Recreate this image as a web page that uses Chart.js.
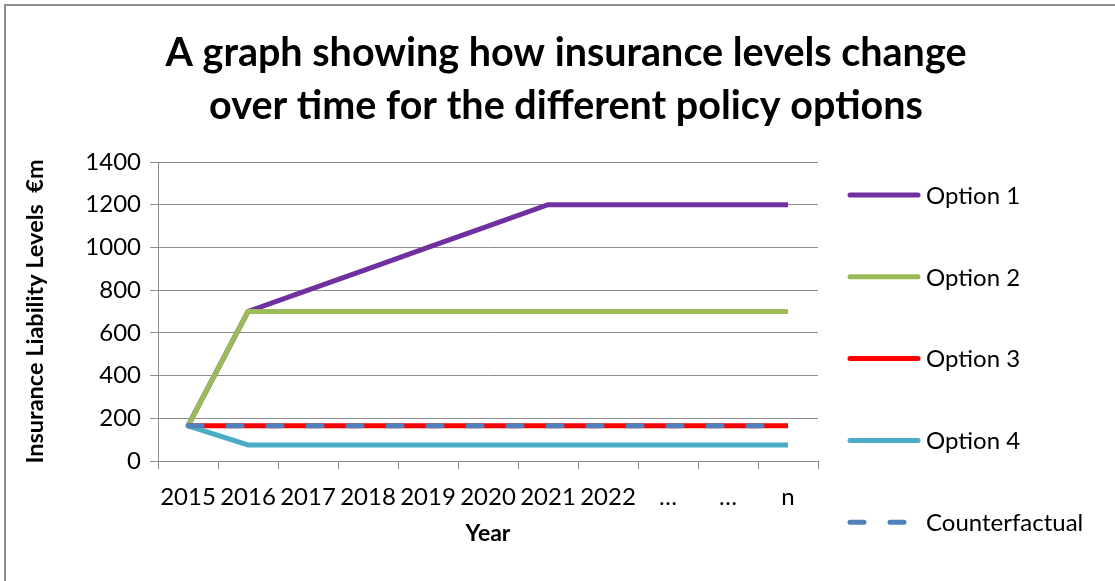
<!DOCTYPE html>
<html>
<head>
<meta charset="utf-8">
<script src="https://cdn.jsdelivr.net/npm/chart.js@4.4.1/dist/chart.umd.min.js"></script>
<style>
  html, body { margin: 0; padding: 0; background: #fff; }
  #wrap { position: relative; width: 1115px; height: 581px; overflow: hidden; }
  #frame { position: absolute; left: 4px; top: 4px; width: 1300px; height: 800px;
           border-left: 2px solid #8c8c8c; border-top: 2px solid #8c8c8c; }
  canvas { position: absolute; left: 0; top: 0; }
</style>
</head>
<body>
<div id="wrap">
  <div id="frame"></div>
  <canvas id="insChart" width="1115" height="581"></canvas>
</div>
<script>
const years = ['2015', '2016', '2017', '2018', '2019', '2020', '2021', '2022', '…', '…', 'n'];
const option1 = [165, 700, 800, 900, 1000, 1100, 1200, 1200, 1200, 1200, 1200];
const option2 = [165, 700, 700, 700, 700, 700, 700, 700, 700, 700, 700];
const option3 = [165, 165, 165, 165, 165, 165, 165, 165, 165, 165, 165];
const option4 = [165, 75, 75, 75, 75, 75, 75, 75, 75, 75, 75];
const counterfactual = [165, 165, 165, 165, 165, 165, 165, 165, 165, 165, 165];
const seriesNames = ['Option 1', 'Option 2', 'Option 3', 'Option 4', 'Counterfactual'];
const seriesColors = ['#7030A0', '#9BBB59', '#FF0000', '#4BACC6', '#4F81BD'];
const titleLines = ['A graph showing how insurance levels change', 'over time for the different policy options'];

const FONT = 'Lato';
const gridGray = '#8c8c8c';

function series(i, values, extra) {
    return Object.assign({
        label: seriesNames[i],
        data: values,
        borderColor: seriesColors[i],
        backgroundColor: seriesColors[i],
        borderWidth: 5,
        pointRadius: 0,
        pointHoverRadius: 0,
        tension: 0,
        fill: false,
        order: 4 - i
    }, extra || {});
}

// title drawn over the whole picture (Excel centres it on the chart object)
const titlePlugin = {
    id: 'bigTitle',
    afterDraw(chart) {
        const ctx = chart.ctx;
        ctx.save();
        ctx.fillStyle = '#000';
        ctx.font = 'bold 39.5px ' + FONT;
        ctx.textAlign = 'center';
        ctx.textBaseline = 'middle';
        titleLines.forEach((t, i) => ctx.fillText(t, 566, 53 + i * 53));
        ctx.restore();
    }
};

// legend on the right with long line samples
const sideLegend = {
    id: 'sideLegend',
    afterDraw(chart) {
        const ctx = chart.ctx;
        ctx.save();
        ctx.font = '24px ' + FONT;
        ctx.textBaseline = 'middle';
        ctx.textAlign = 'left';
        chart.data.datasets.forEach((ds, i) => {
            const y = 195 + i * 81.8;
            ctx.beginPath();
            ctx.strokeStyle = ds.borderColor;
            ctx.lineWidth = 5;
            ctx.lineCap = 'round';
            ctx.setLineDash(ds.borderDash || []);
            ctx.moveTo(850, y);
            ctx.lineTo(918, y);
            ctx.stroke();
            ctx.setLineDash([]);
            ctx.fillStyle = '#000';
            ctx.fillText(ds.label, 926, y + 1);
        });
        ctx.restore();
    }
};

new Chart(document.getElementById('insChart').getContext('2d'), {
    type: 'line',
    data: {
        labels: years,
        datasets: [
            series(0, option1),
            series(1, option2),
            series(2, option3),
            series(3, option4),
            series(4, counterfactual, { borderDash: [14, 26], borderCapStyle: 'round' })
        ]
    },
    options: {
        responsive: false,
        animation: false,
        layout: { padding: { top: 162, right: 297, bottom: 0, left: 21 } },
        plugins: {
            legend: { display: false },
            title: { display: false },
            tooltip: { enabled: false }
        },
        scales: {
            x: {
                offset: true,
                grid: { offset: true, drawOnChartArea: false, drawTicks: true, tickLength: 8, color: gridGray, lineWidth: 1 },
                border: { color: gridGray, width: 1 },
                ticks: { color: '#000', font: { family: FONT, size: 24 }, padding: 14, maxRotation: 0, autoSkip: false },
                title: { display: true, text: 'Year', color: '#000', font: { family: FONT, size: 23, weight: 'bold' }, padding: { top: 0, bottom: 34 } },
                afterFit: s => { s.height = 120; }
            },
            y: {
                min: 0,
                max: 1400,
                grid: { color: gridGray, lineWidth: 1, tickLength: 8 },
                border: { color: gridGray, width: 1 },
                ticks: { stepSize: 200, color: '#000', font: { family: FONT, size: 24 }, padding: 9, callback: v => String(v) },
                title: { display: true, text: 'Insurance Liability Levels  €m', color: '#000', font: { family: FONT, size: 23.5, weight: 'bold' }, padding: 0 },
                afterFit: s => { s.width = 137; }
            }
        }
    },
    plugins: [titlePlugin, sideLegend]
});
</script>
</body>
</html>
